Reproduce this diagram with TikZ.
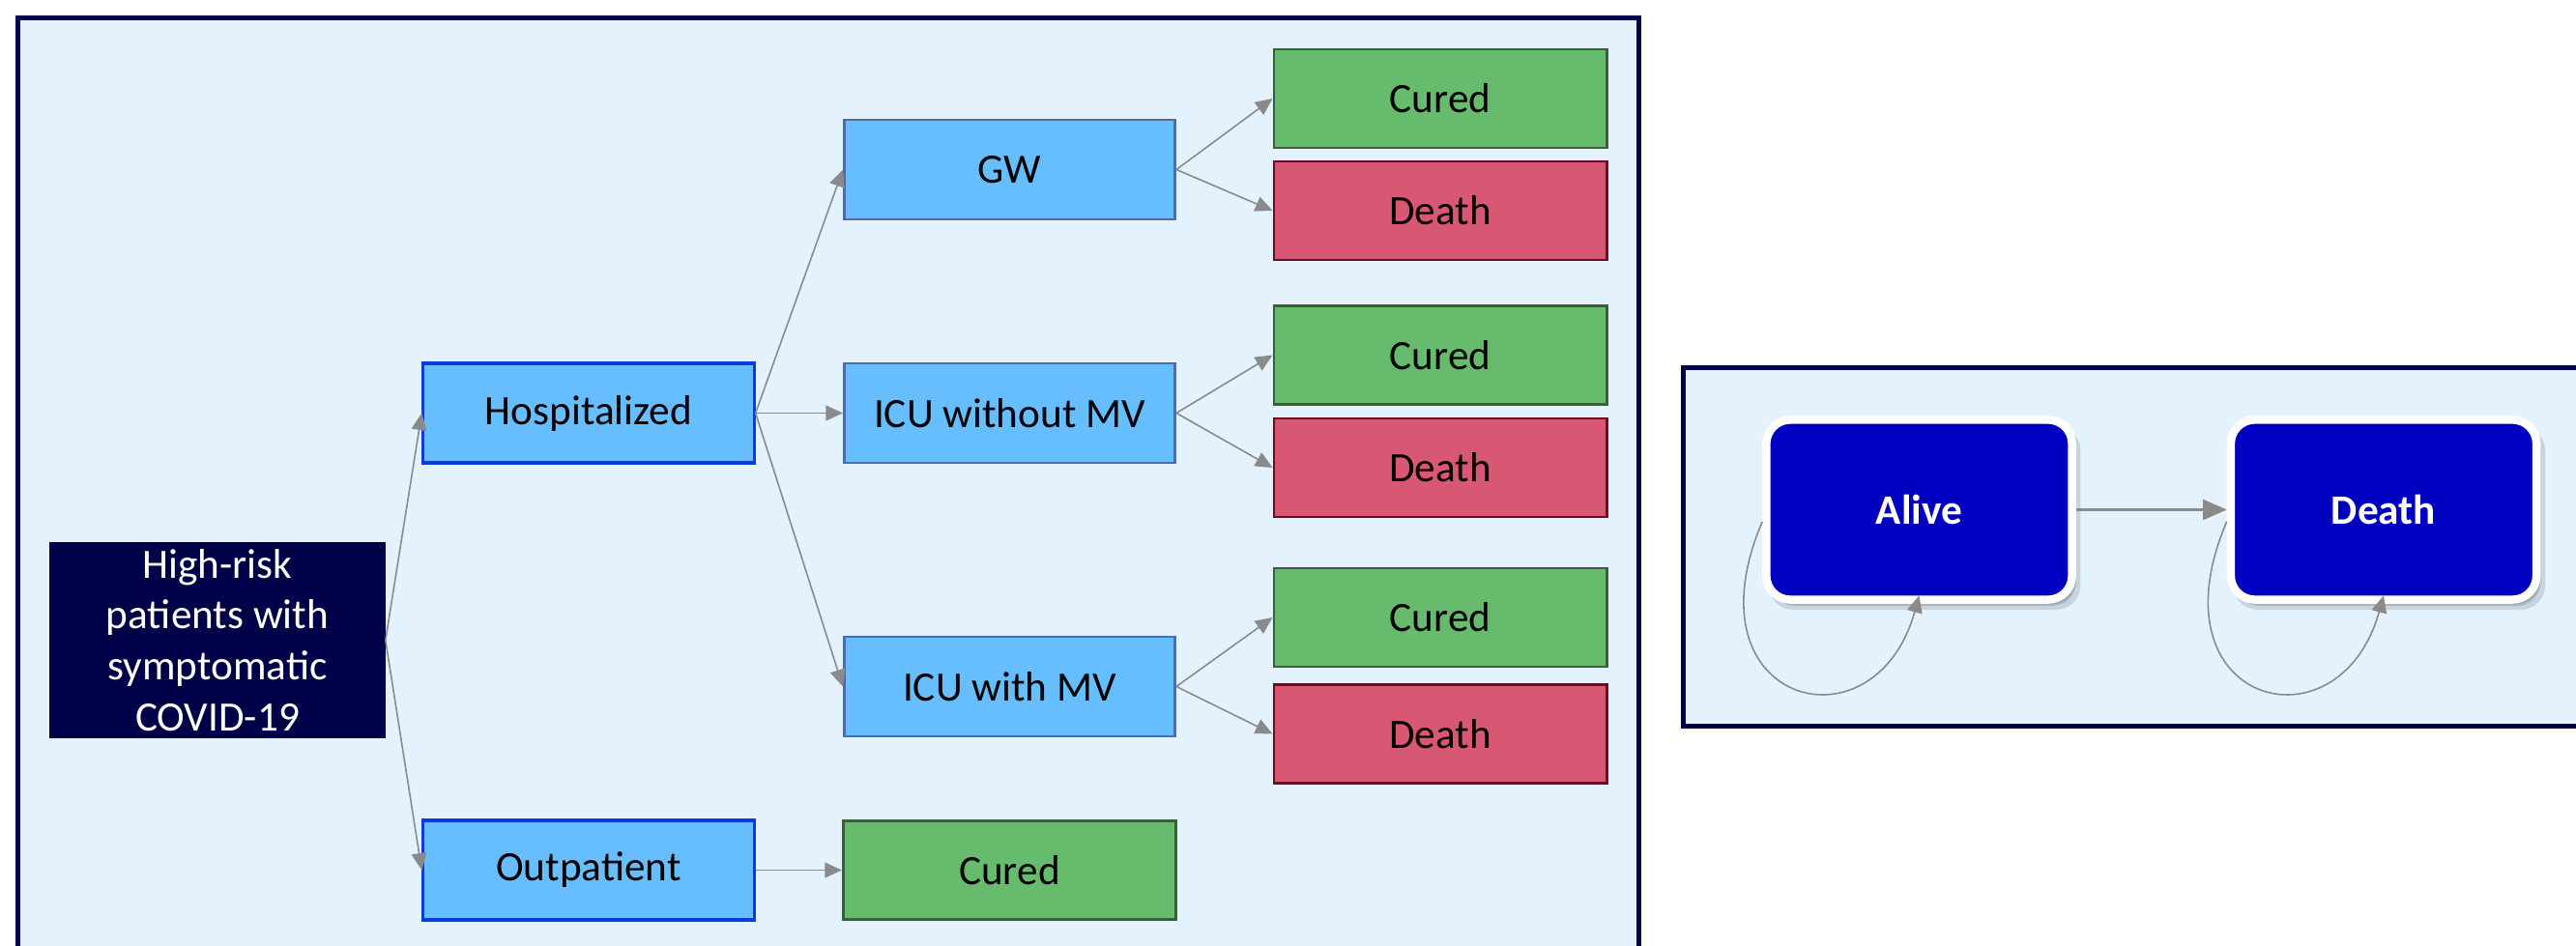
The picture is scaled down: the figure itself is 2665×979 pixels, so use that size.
\documentclass[tikz,border=0pt]{standalone}
\usepackage{fontspec}
\setmainfont{Carlito}
\usetikzlibrary{arrows.meta,shadows}
\definecolor{panelfill}{RGB}{227,242,253}
\definecolor{panelborder}{RGB}{0,0,80}
\definecolor{navybox}{RGB}{0,0,72}
\definecolor{bluefill}{RGB}{102,190,255}
\definecolor{bluestrong}{RGB}{10,60,225}
\definecolor{bluemuted}{RGB}{74,111,168}
\definecolor{greenfill}{RGB}{103,187,109}
\definecolor{greenborder}{RGB}{58,95,59}
\definecolor{redfill}{RGB}{216,88,115}
\definecolor{redborder}{RGB}{110,10,36}
\definecolor{statefill}{RGB}{0,0,192}
\definecolor{arrowgray}{RGB}{138,138,138}
\tikzset{
  txt/.style={font=\fontsize{12.3}{15}\selectfont},
  panel/.style={draw=panelborder, fill=panelfill, line width=1.4pt},
  basebox/.style={txt, rectangle, minimum width=3.42cm, minimum height=1.03cm, inner sep=2pt, text=black},
  bluebox/.style={basebox, fill=bluefill, draw=bluemuted, line width=0.8pt},
  bluebold/.style={basebox, fill=bluefill, draw=bluestrong, line width=0.9pt},
  curedbox/.style={basebox, minimum width=3.44cm, minimum height=1.02cm, fill=greenfill, draw=greenborder, line width=0.8pt},
  deathbox/.style={basebox, minimum width=3.44cm, minimum height=1.02cm, fill=redfill, draw=redborder, line width=0.8pt},
  startbox/.style={txt, rectangle, fill=navybox, draw=navybox, text=white, align=center, minimum width=3.46cm, minimum height=2.01cm, inner xsep=2pt, inner ysep=0pt},
  softshadow/.style={
    drop shadow={shadow xshift=1.6pt, shadow yshift=-2.4pt, opacity=0.12, fill=black, shadow scale=1.02},
    drop shadow={shadow xshift=1.2pt, shadow yshift=-1.8pt, opacity=0.15, fill=black},
    drop shadow={shadow xshift=0.8pt, shadow yshift=-1.2pt, opacity=0.18, fill=black}},
  statebox/.style={font=\fontsize{12.3}{15}\selectfont\bfseries, rectangle, rounded corners=7pt, fill=statefill, draw=white, line width=2.4pt, text=white, minimum width=3.16cm, minimum height=1.86cm, softshadow},
  arr/.style={draw=arrowgray, line width=0.45pt, -{Triangle[length=5pt,width=4.5pt]}},
  bigarr/.style={draw=arrowgray, line width=0.6pt, -{Triangle[length=7pt,width=6pt]}},
}
\begin{document}
\begin{tikzpicture}[x=0.01cm,y=-0.01cm]
\useasboundingbox (0,0) rectangle (2665,979);
\clip (0,0) rectangle (2665,979);
\fill[white] (0,0) rectangle (2665,979);
% panels
\path[panel] (18.5,18.5) rectangle (1695.5,1020);
\path[panel] (1741.5,380.5) rectangle (2720,751.5);
% left tree
\node[startbox] (hr) at (225,662.5) {High-risk\\patients with\\symptomatic\\COVID-19};
\node[bluebold] (hosp) at (609,427.5) {Hospitalized};
\node[bluebold] (outp) at (609,900.5) {Outpatient};
\node[bluebox] (gw) at (1044.5,175.5) {GW};
\node[bluebox] (icuwo) at (1044.5,427.5) {ICU without MV};
\node[bluebox] (icuw) at (1044.5,710.5) {ICU with MV};
\node[curedbox] (curedo) at (1044.5,900.5) {Cured};
\node[curedbox] (cured1) at (1490,102) {Cured};
\node[deathbox] (death1) at (1490,218) {Death};
\node[curedbox] (cured2) at (1490,367.5) {Cured};
\node[deathbox] (death2) at (1490,484) {Death};
\node[curedbox] (cured3) at (1490,639) {Cured};
\node[deathbox] (death3) at (1490,759.5) {Death};
\draw[arr] (hr.east) -- (hosp.west);
\draw[arr] (hr.east) -- (outp.west);
\draw[arr] (hosp.east) -- (gw.west);
\draw[arr] (hosp.east) -- (icuwo.west);
\draw[arr] (hosp.east) -- (icuw.west);
\draw[arr] (outp.east) -- (curedo.west);
\draw[arr] (gw.east) -- (cured1.west);
\draw[arr] (gw.east) -- (death1.west);
\draw[arr] (icuwo.east) -- (cured2.west);
\draw[arr] (icuwo.east) -- (death2.west);
\draw[arr] (icuw.east) -- (cured3.west);
\draw[arr] (icuw.east) -- (death3.west);
% right state diagram
\node[statebox] (alive) at (1985.5,527.5) {Alive};
\node[statebox] (dead) at (2466,527.5) {Death};
\draw[bigarr] (alive) -- (dead);
\draw[arr] ([yshift=-3.5pt]alive.west) .. controls +(-81,190) and +(-46,165) .. ([yshift=2.4pt]alive.south);
\draw[arr] ([yshift=-3.5pt]dead.west) .. controls +(-81,190) and +(-46,165) .. ([yshift=2.4pt]dead.south);
\end{tikzpicture}
\end{document}
